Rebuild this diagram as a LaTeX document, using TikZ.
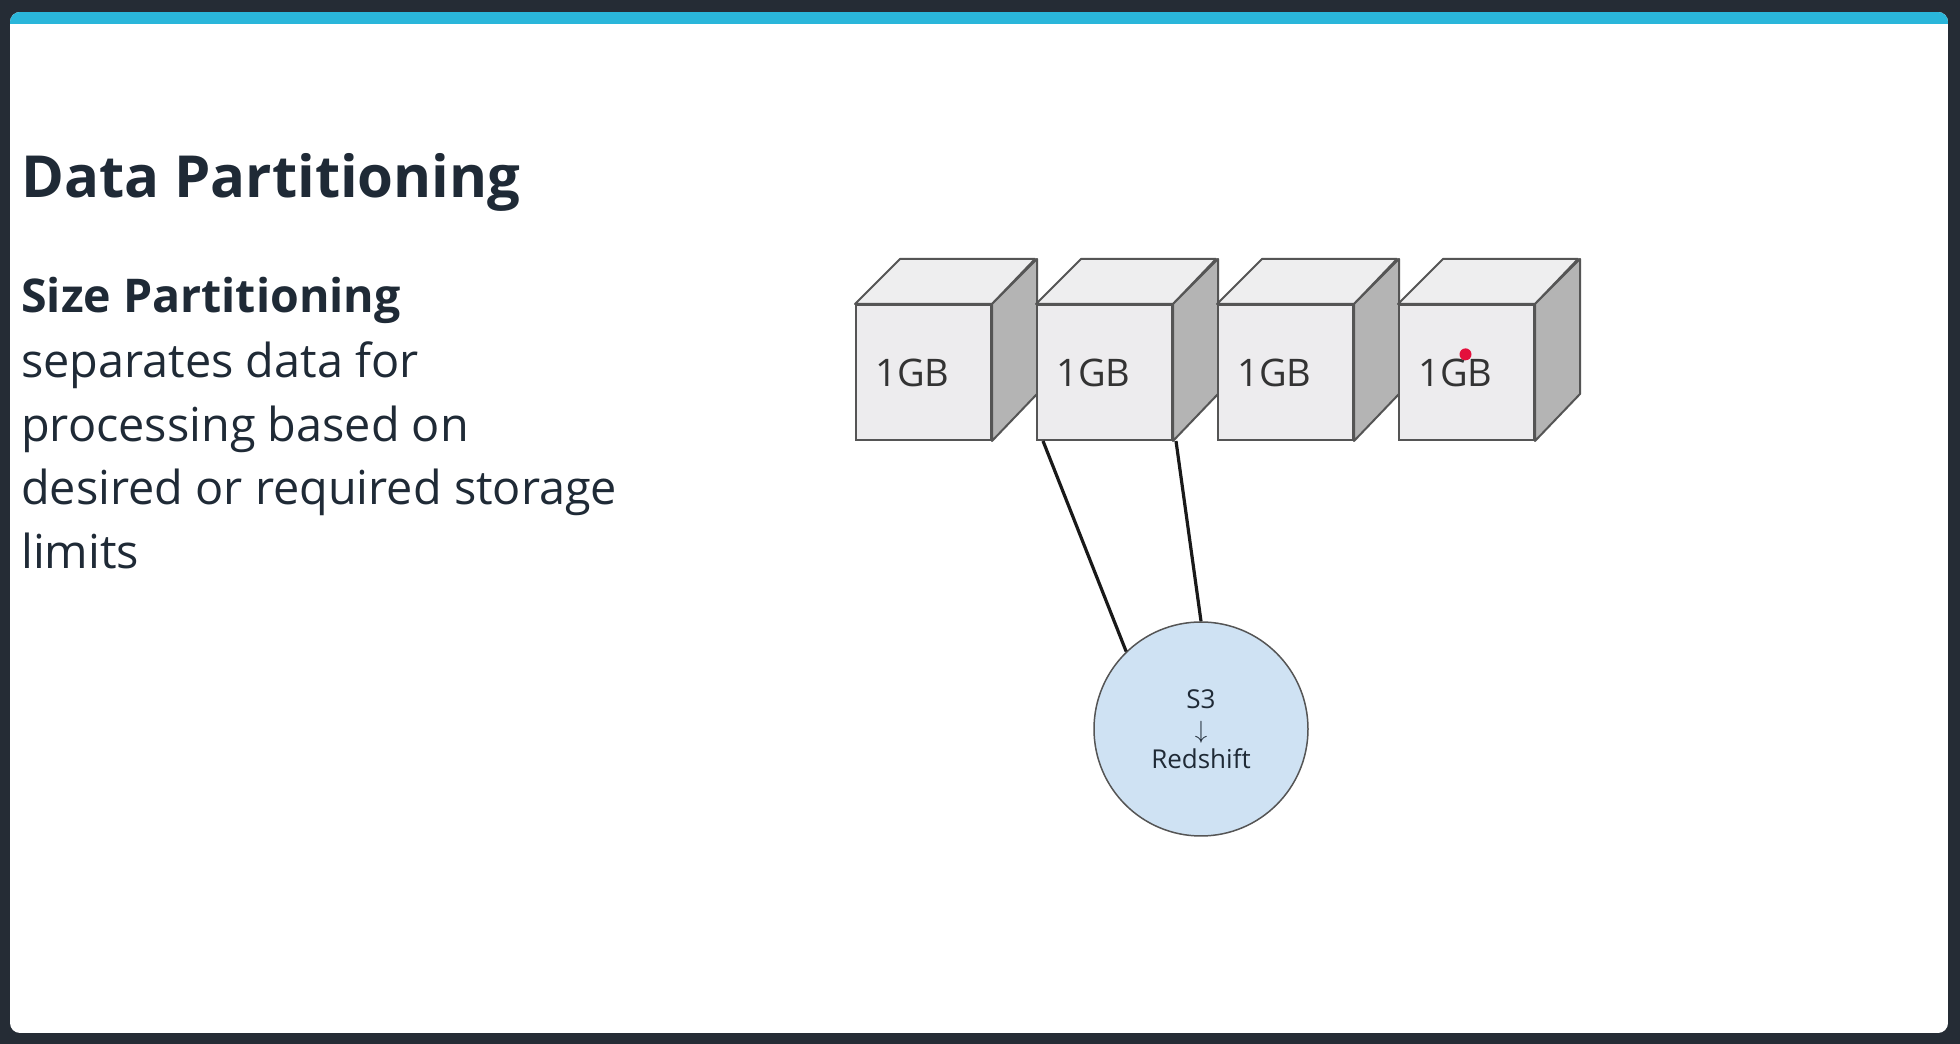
\documentclass[tikz,border=0pt]{standalone}
\usepackage{fontspec}
\setmainfont{Open Sans}

\definecolor{framedark}{HTML}{252C35}
\definecolor{barcyan}{HTML}{2AB6DA}
\definecolor{inkdark}{HTML}{1F2A36}
\definecolor{facefront}{HTML}{EDECEE}
\definecolor{facetop}{HTML}{EEEEEF}
\definecolor{faceside}{HTML}{B4B4B4}
\definecolor{edgegray}{HTML}{555555}
\definecolor{bubble}{HTML}{CFE2F3}
\definecolor{pointer}{HTML}{E3103C}

\begin{document}
\begin{tikzpicture}[x=1pt, y=1pt,
  front/.style={rectangle, draw=edgegray, line width=2pt, fill=facefront,
    minimum size=135pt, inner sep=0pt},
  topface/.style={draw=edgegray, line width=2pt, fill=facetop, line join=round},
  sideface/.style={draw=edgegray, line width=2pt, fill=faceside, line join=round},
  gblabel/.style={inner sep=0pt, text=black!80, font=\fontsize{38}{40}\selectfont},
  link/.style={draw=black!90, line width=3.2pt}]
\useasboundingbox (0,0) rectangle (1960,1044);
% Parameters
\def\cubenum{4}
\def\pitch{181}
\def\depth{45}

% === Slide frame ===
\fill[framedark] (0,0) rectangle (1960,1044);
\begin{scope}
  \clip[rounded corners=10pt] (10,11) rectangle (1948,1032);
  \fill[white] (10,11) rectangle (1948,1032);
  \fill[barcyan] (10,1020) rectangle (1948,1032);
\end{scope}

% === Text ===
\node[anchor=base west, inner sep=0pt, text=inkdark,
  font=\fontsize{58}{70}\selectfont\bfseries] (Title) at (21,846) {Data Partitioning};
\node[anchor=base west, inner sep=0pt, text=inkdark,
  font=\fontsize{46.5}{60}\selectfont\bfseries] (Subtitle) at (21,731) {Size Partitioning};
\foreach \line [count=\k] in {separates data for, processing based on,
  desired or required storage, limits}{
  \node[anchor=base west, inner sep=0pt, text=inkdark, font=\fontsize{46.8}{60}\selectfont]
    (Body-\k) at (21,{666-63.5*(\k-1)}) {\line};
}

% === Cubes ===
\foreach \i in {1,...,\cubenum}{
  \node[front] (Cube-\i) at ({923.5+\pitch*(\i-1)},671.5) {};
  \draw[topface] (Cube-\i.north west) -- ++(\depth,\depth) -- ++(135,0)
    -- (Cube-\i.north east) -- cycle;
  \draw[sideface] (Cube-\i.north east) -- ++(\depth,\depth) -- ++(0,-135)
    -- (Cube-\i.south east) -- cycle;
  \node[gblabel] (Size-\i) at ([xshift=-11pt]Cube-\i.center) {1GB};
}

% === Load target ===
\node[circle, draw=edgegray, line width=1.5pt, fill=bubble, minimum size=214pt,
  inner sep=0pt, align=center, text=inkdark, font=\fontsize{26}{30}\selectfont]
  (S3) at (1201,315) {S3\\$\downarrow$\\Redshift};

% === Connections ===
\draw[link] ([xshift=7pt]Cube-2.south west) -- (S3.134);
\draw[link] ([xshift=3pt]Cube-2.south east) -- (S3.north);

% pointer dot
\fill[pointer] (Size-4.north) ++(10,4) circle (6);
\end{tikzpicture}
\end{document}
